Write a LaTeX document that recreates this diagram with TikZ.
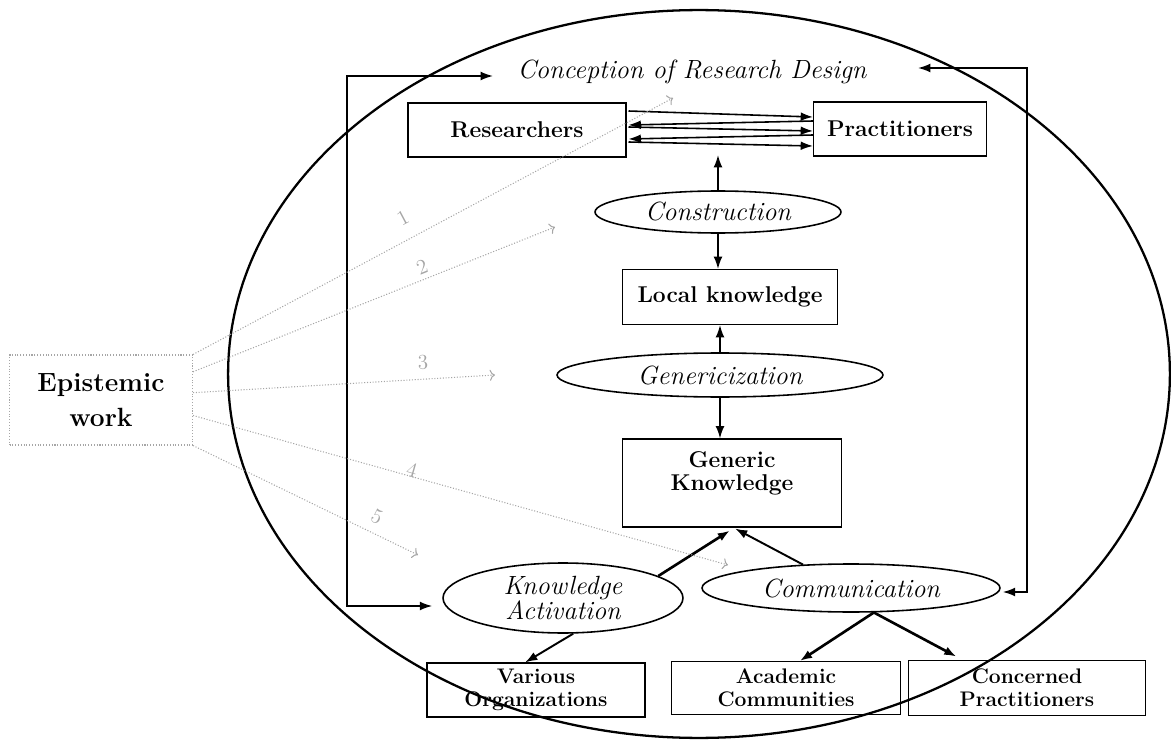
\documentclass[tikz,border=0pt]{standalone}
\usepackage{fontspec}
\usepackage{tikz}
\usetikzlibrary{calc,shapes.geometric,arrows.meta}

\tikzset{
  box/.style={draw, line width=0.6pt, inner sep=0pt, align=center, font=\fontsize{13}{15}\selectfont\bfseries},
  smallbox/.style={box, font=\fontsize{12}{13}\selectfont\bfseries},
  proc/.style={draw, ellipse, line width=0.9pt, inner sep=0pt, align=center, font=\fontsize{15}{13}\selectfont\itshape},
  arr/.style={line width=0.9pt, ->},
  bigarr/.style={line width=1.5pt, ->},
  gline/.style={gray!70, line width=0.6pt, densely dotted, -{To[length=3pt]}},
  numlbl/.style={text=gray!70, inner sep=0pt, font=\fontsize{12}{12}\selectfont},
  >={Latex[length=7pt,width=5pt]}
}

\begin{document}
\begin{tikzpicture}[x=0.02cm, y=-0.02cm]
\useasboundingbox (0,0) rectangle (1171,740);
% outer ellipse
\draw[line width=1.3pt] (699,374) ellipse [x radius=9.42cm, y radius=7.28cm];

% boxes
\node[box, minimum width=4.36cm, minimum height=1.08cm] (res) at (517,130) {Researchers};
\node[box, minimum width=3.46cm, minimum height=1.08cm] (prac) at (900,129) {Practitioners};
\node[box, minimum width=4.3cm, minimum height=1.1cm] (local) at (730,297) {Local knowledge};
\node[box, minimum width=4.38cm, minimum height=1.76cm, font=\fontsize{13}{13.5}\selectfont\bfseries] (generic) at (732,483) {Generic\\Knowledge\\\mbox{}};
\node[smallbox, minimum width=4.36cm, minimum height=1.08cm] (various) at (536,690) {Various\\Organizations};
\node[smallbox, minimum width=4.58cm, minimum height=1.06cm] (academic) at (786,688) {Academic\\Communities};
\node[smallbox, minimum width=4.74cm, minimum height=1.1cm] (concerned) at (1027,688) {Concerned\\Practitioners};
\node[box, draw=gray!70, densely dotted, minimum width=3.66cm, minimum height=1.8cm, font=\fontsize{15}{20}\selectfont\bfseries] (epi) at (101,400) {Epistemic\\work};

% processes
\node[proc, minimum width=4.92cm, minimum height=0.84cm] (cons) at (718,212) {Construction};
\node[proc, minimum width=6.52cm, minimum height=0.88cm] (gen) at (720,375) {Genericization};
\node[proc, minimum width=4.8cm, minimum height=1.4cm, inner ysep=-10pt] (ka) at (563,598) {Knowledge\\Activation};
\node[proc, minimum width=5.96cm, minimum height=0.96cm] (comm) at (851,588) {Communication};
\node[font=\fontsize{15}{15}\selectfont\itshape, inner sep=0pt] (concept) at (692,72) {Conception of Research Design};

% researchers <-> practitioners
\foreach \a/\b in {-19/-12,-3/2,12/17}
  \draw[arr] ($(res.east)+(2,\a)$) -- ($(prac.west)+(0,\b)$);
\foreach \a/\b in {-8/-5,6/9}
  \draw[arr] ($(prac.west)+(0,\a)$) -- ($(res.east)+(2,\b)$);

% vertical chain
\coordinate (top) at (718,155);
\draw[arr] (cons.north) -- (top);
\draw[arr] (cons.south) -- (cons.south |- local.north);
\draw[arr] (gen.north) -- (gen.north |- local.south);
\draw[arr] (gen.south) -- (gen.south |- generic.north);

% bottom part
\draw[bigarr] (ka.13) -- ($(generic.south)+(-2,3)$);
\draw[arr, line width=1.1pt] (comm.154) -- ($(generic.south)+(3,1)$);
\draw[arr, line width=1.1pt] (ka.-74) -- ($(various.north west)!0.45!(various.north east)$);
\draw[bigarr] (comm.-47) -- ($(academic.north west)!0.56!(academic.north east)$);
\draw[bigarr, shorten >=4pt] (comm.-47) -- ($(concerned.north west)!0.23!(concerned.north east)$);

% loops round to the research design
\coordinate (cdl) at (493,76);
\coordinate (cdr) at (918,68);
\draw[arr, <->] (cdl) -- ++(-146,0) |- ($(ka.west)+(-10,8)$);
\draw[arr, <->] (cdr) -- ++(109,0) |- ($(comm.east)+(2,4)$);

% epistemic work
\coordinate (e1) at (673,98);
\coordinate (e2) at (555,227);
\coordinate (e3) at (495,375);
\coordinate (e4) at (728,565);
\coordinate (e5) at (418,555);
\foreach \f/\e in {0/e1,0.19/e2,0.42/e3,0.67/e4,1/e5}
  \draw[gline] ($(epi.north east)!\f!(epi.south east)$) -- (\e);
\node[numlbl, rotate=28] (n1) at (403,218) {1};
\node[numlbl, rotate=22] (n2) at (422,267) {2};
\node[numlbl, rotate=3] (n3) at (423,362) {3};
\node[numlbl, rotate=-16] (n4) at (412,470) {4};
\node[numlbl, rotate=-26] (n5) at (377,517) {5};
\end{tikzpicture}
\end{document}
